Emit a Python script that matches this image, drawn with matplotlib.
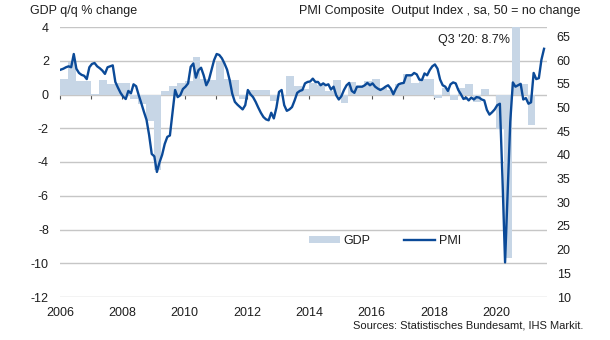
import matplotlib
matplotlib.use("Agg")
import matplotlib.pyplot as plt
import numpy as np

plt.rcParams['font.family'] = ['Liberation Sans', 'DejaVu Sans']
plt.rcParams['axes.unicode_minus'] = False

# ---------------- data ----------------
gdp_start_year = 2006
gdp_qoq = [
    0.94, 1.9, 0.78, 0.78,      # 2006
    0.05, 0.88, 0.6, 0.69,      # 2007
    0.68, -0.24, -0.55, -1.55,  # 2008
    -4.5, 0.2, 0.53, 0.69,      # 2009
    0.78, 2.22, 0.89, 0.88,     # 2010
    1.95, 0.9, 0.88, -0.26,     # 2011
    0.28, 0.26, 0.26, -0.4,     # 2012
    -0.1, 1.07, 0.53, 0.3,      # 2013
    0.7, 0.55, 0.2, 0.83,       # 2014
    -0.5, 0.73, 0.43, 0.8,      # 2015
    0.89, 0.4, 0.24, 0.6,       # 2016
    1.23, 0.7, 0.9, 0.9,        # 2017
    -0.18, 0.4, -0.3, 0.4,      # 2018
    0.64, -0.45, 0.33, 0.0,     # 2019
    -2.05, -9.7, 8.7, 0.6,      # 2020
    -1.8,                       # 2021
]

pmi_start_year = 2006
pmi = [
    58.0, 58.2, 58.5, 58.7, 58.5, 61.3, 58.2, 57.3, 56.9, 56.7, 56.0, 58.5,  # 2006
    59.2, 59.4, 58.7, 58.3, 57.8, 57.1, 58.5, 58.7, 58.9, 55.4, 54.2, 53.1,  # 2007
    52.3, 51.8, 53.5, 53.0, 54.9, 54.5, 52.6, 50.9, 49.1, 47.4, 44.2, 40.2,  # 2008
    39.7, 36.4, 38.4, 40.0, 42.3, 43.8, 44.1, 48.9, 53.7, 52.2, 52.6, 53.9,  # 2009
    54.4, 55.1, 58.6, 59.3, 56.3, 57.9, 58.4, 56.8, 54.7, 55.8, 57.9, 60.0,  # 2010
    61.3, 61.1, 60.4, 59.3, 58.0, 55.8, 52.9, 51.2, 50.6, 50.1, 49.6, 50.5,  # 2011
    53.7, 52.8, 52.2, 51.2, 50.0, 48.9, 48.0, 47.5, 47.3, 48.9, 47.7, 50.0,  # 2012
    53.3, 53.7, 50.5, 49.3, 49.6, 50.1, 51.5, 53.1, 53.5, 53.7, 55.1, 55.4,  # 2013
    55.5, 56.1, 55.4, 55.4, 54.7, 55.1, 54.7, 54.9, 53.8, 54.4, 52.6, 51.7,  # 2014
    52.4, 53.7, 54.7, 55.2, 53.5, 53.1, 54.4, 54.4, 54.4, 54.7, 55.2, 54.7,  # 2015
    55.1, 54.4, 54.0, 53.7, 54.0, 54.4, 54.7, 54.0, 52.8, 54.0, 54.9, 55.1,  # 2016
    55.2, 56.8, 56.8, 56.8, 57.3, 57.0, 55.9, 55.8, 57.2, 56.8, 57.9, 58.7,  # 2017
    59.1, 58.2, 55.9, 54.7, 54.4, 53.5, 54.9, 55.3, 55.1, 53.7, 52.8, 51.8,  # 2018
    52.1, 51.5, 52.1, 51.7, 52.2, 52.1, 51.7, 51.5, 49.5, 48.5, 49.0, 49.6,  # 2019
    50.5, 50.8, 35.0, 17.3, 32.3, 47.0, 55.3, 54.4, 54.7, 55.0, 51.7, 52.0,  # 2020
    50.8, 51.1, 57.3, 56.0, 56.2, 60.1, 62.4,                                # 2021
]

x_tick_years = [2006, 2008, 2010, 2012, 2014, 2016, 2018, 2020]
gdp_ticks = [4, 2, 0, -2, -4, -6, -8, -10, -12]
pmi_ticks = [65, 60, 55, 50, 45, 40, 35, 30, 25, 20, 15, 10]
annotation = "Q3 '20: 8.7%"

# ---------------- style ----------------
bar_color = '#c7d6e6'
line_color = '#0b4a98'
grid_color = '#c6c6c6'
text_color = '#1e1e1e'

fig = plt.figure(figsize=(6.1, 3.4), dpi=100)
ax = fig.add_axes([60/610, 43/340, 487/610, 270/340])

gdp_x = gdp_start_year + np.arange(len(gdp_qoq)) / 4.0
ax.bar(gdp_x, gdp_qoq, width=0.25, align='edge', color=bar_color,
       linewidth=0, zorder=2, label='GDP')

ax.set_xlim(2006, 2021.62)
ax.set_ylim(-12, 4)
ax.set_yticks(gdp_ticks)
ax.set_yticklabels([str(t) for t in gdp_ticks])
ax.set_xticks(x_tick_years)
ax.set_xticklabels([str(t) for t in x_tick_years])
ax.tick_params(axis='both', length=0, labelsize=9, colors=text_color)
ax.tick_params(axis='y', pad=8)
ax.tick_params(axis='x', pad=7)
for s in ax.spines.values():
    s.set_visible(False)
ax.yaxis.grid(True, color=grid_color, linewidth=1.0, zorder=0)
ax.set_axisbelow(True)

# zero line with yearly tick marks
sec = ax.secondary_xaxis(0.75)
sec.set_xticks(list(range(2006, 2022)))
sec.tick_params(axis='x', direction='out', length=3, width=0.8,
                color='#555555', labelbottom=False, labeltop=False,
                bottom=True, top=False)
for name, s in sec.spines.items():
    if name == 'bottom':
        s.set_color('#8a8a8a')
        s.set_linewidth(1.0)
    else:
        s.set_visible(False)

ax2 = ax.twinx()
pmi_x = pmi_start_year + (np.arange(len(pmi)) + 0.3) / 12.0
ax2.plot(pmi_x, pmi, color=line_color, linewidth=1.7, zorder=3, label='PMI',
         solid_joinstyle='round')
ax2.set_ylim(10, 67)
ax2.set_yticks(pmi_ticks)
ax2.set_yticklabels([str(t) for t in pmi_ticks])
ax2.tick_params(axis='y', length=0, labelsize=9, colors=text_color, pad=7)
for s in ax2.spines.values():
    s.set_visible(False)

ax.text(2020.42, 3.2, annotation, ha='right', va='center',
        fontsize=9, color=text_color)

# legend
h1, l1 = ax.get_legend_handles_labels()
h2, l2 = ax2.get_legend_handles_labels()
leg = fig.legend(h1 + h2, l1 + l2, ncol=2, frameon=False, fontsize=9,
                 loc='center', bbox_to_anchor=(385/610, 1 - 241/340),
                 handlelength=2.45, handleheight=0.45, handletextpad=0.3,
                 columnspacing=2.7, borderaxespad=0)
for t in leg.get_texts():
    t.set_color(text_color)

fig.text(30/610, 1 - 11/340, 'GDP q/q % change', ha='left', va='center',
         fontsize=9, color=text_color)
fig.text(580/610, 1 - 11/340, 'PMI Composite  Output Index , sa, 50 = no change',
         ha='right', va='center', fontsize=9, color=text_color)
fig.text(583/610, 1 - 325/340, 'Sources: Statistisches Bundesamt, IHS Markit.',
         ha='right', va='center', fontsize=8, color=text_color)

fig.savefig('out.png', dpi=100)
